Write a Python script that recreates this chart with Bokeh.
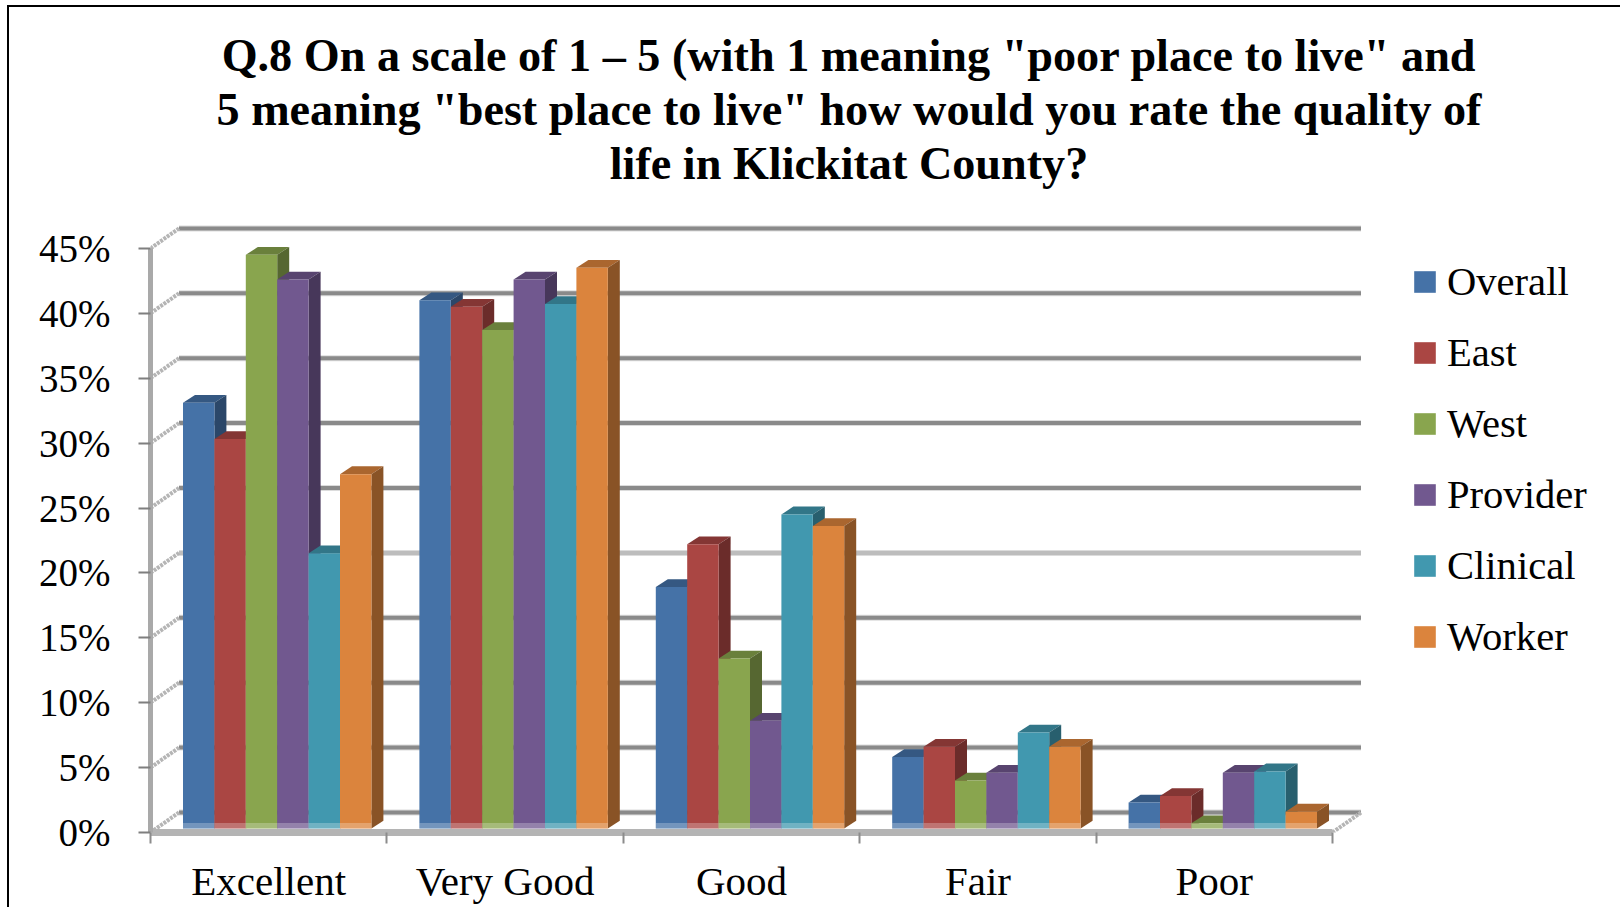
from bokeh.plotting import figure
from bokeh.embed import file_html
from bokeh.resources import INLINE
from bokeh.core.properties import value
from bokeh.models import (Range1d, FixedTicker, LinearAxis, Legend, LegendItem,
                          ColumnDataSource, InlineStyleSheet)

categories = ["Excellent", "Very Good", "Good", "Fair", "Poor"]
series_names = ["Overall", "East", "West", "Provider", "Clinical", "Worker"]
overall = [32.8, 40.7, 18.6, 5.5, 2.0]
east = [30.0, 40.2, 21.9, 6.3, 2.5]
west = [44.2, 38.4, 13.1, 3.7, 0.4]
provider = [42.3, 42.3, 8.3, 4.3, 4.3]
clinical = [21.2, 40.4, 24.2, 7.4, 4.4]
worker = [27.3, 43.2, 23.3, 6.3, 1.3]
all_series = [overall, east, west, provider, clinical, worker]
colors = ["#4572A7", "#AA4643", "#89A54E", "#71588F", "#4198AF", "#DB843D"]
y_ticks = [0, 5, 10, 15, 20, 25, 30, 35, 40, 45]
title_lines = ['Q.8 On a scale of 1 \u2013 5 (with 1 meaning "poor place to live" and',
               '5 meaning "best place to live" how would you rate the quality of',
               'life in Klickitat County?']

SERIF = "Liberation Serif"
PX_X = 236.4      # pixels per category
PX_Y = 12.98      # pixels per percent
DEPTH_X = 28.5 / PX_X
DEPTH_Y = 20.0 / PX_Y
BAR_W = 31.4 / PX_X
BAR_START = 32.5 / PX_X
BASE = 4.0 / PX_Y
SIDE_X = 12.0 / PX_X
SIDE_Y = 7.8 / PX_Y
STRIP = 5.4 / PX_Y


def shade(c, f):
    r, g, b = int(c[1:3], 16), int(c[3:5], 16), int(c[5:7], 16)
    return "#%02x%02x%02x" % (int(r * f), int(g * f), int(b * f))


W, H = 1620, 907
FR_L, FR_R, FR_T, FR_B = 150, 1612, 10, 832   # frame edges inside the figure

p = figure(width=W, height=H, output_backend="svg", toolbar_location=None,
           x_range=Range1d(0, (FR_R - FR_L) / PX_X),
           y_range=Range1d(0, (FR_B - FR_T) / PX_Y),
           min_border_left=FR_L, min_border_right=W - FR_R,
           min_border_top=FR_T, min_border_bottom=H - FR_B,
           x_axis_type=None, y_axis_type=None)
p.outline_line_color = None
p.xgrid.visible = False
p.ygrid.visible = False

# chart area frame: top and left edges running off the page
p.stylesheets = [InlineStyleSheet(css=(
    ":host::after{content:'';position:absolute;left:7px;top:5px;right:-4px;bottom:-4px;"
    "border-left:2px solid #000;border-top:2px solid #000;z-index:20;pointer-events:none;}"))]

# title, three centred lines
title_src = ColumnDataSource(dict(
    x=[(848.5 - FR_L) / PX_X] * 3,
    y=[(FR_B - py) / PX_Y for py in (54.5, 108.5, 162.5)],
    text=title_lines))
p.text(x="x", y="y", text="text", source=title_src, text_align="center", text_baseline="middle",
       text_font=value(SERIF), text_font_size="46.2px", text_font_style="bold", text_color="#000000")

# y axis
ya = LinearAxis(ticker=FixedTicker(ticks=y_ticks), bounds=(0, 45),
                axis_line_color="#a9a9a9", axis_line_width=5,
                major_tick_line_color="#7f7f7f", major_tick_line_width=2,
                major_tick_in=0, major_tick_out=12, minor_tick_line_color=None,
                major_label_text_font=SERIF, major_label_text_font_size="39px",
                major_label_text_color="#000000", major_label_standoff=28,
                major_label_overrides={t: f"{t}%" for t in y_ticks})
p.add_layout(ya, "left")

# x axis: labels at category centres, tick marks between them
xa = LinearAxis(ticker=FixedTicker(ticks=[i + 0.5 for i in range(5)], minor_ticks=list(range(6))),
                bounds=(0, 5), axis_line_color="#b4b4b4", axis_line_width=7,
                major_tick_line_color=None, major_tick_in=0, major_tick_out=0,
                minor_tick_line_color="#8c8c8c", minor_tick_line_width=2,
                minor_tick_in=0, minor_tick_out=11,
                major_label_text_font=SERIF, major_label_text_font_size="41px",
                major_label_text_color="#000000", major_label_standoff=14,
                major_label_overrides={i + 0.5: c for i, c in enumerate(categories)})
p.add_layout(xa, "below")

# back wall gridlines and wall/floor edges
for t in y_ticks:
    light = t == 20
    p.segment(DEPTH_X, t + DEPTH_Y, 5 + DEPTH_X, t + DEPTH_Y, line_color="#dcdcdc", line_width=6)
    p.segment(DEPTH_X, t + DEPTH_Y, 5 + DEPTH_X, t + DEPTH_Y,
              line_color="#bdbdbd" if light else "#8a8a8a", line_width=4)
    p.segment(0, t, DEPTH_X, t + DEPTH_Y, line_color="#b5b5b5", line_width=4, line_dash="3 1")
p.segment(5, 0, 5 + DEPTH_X, DEPTH_Y, line_color="#b5b5b5", line_width=4, line_dash="3 1")

# bars, left to right so that each front hides the side of the one before
legend_items = []
for name, vals, col in zip(series_names, all_series, colors):
    s = series_names.index(name)
    x0 = [i + BAR_START + s * BAR_W for i in range(5)]
    x1 = [x + BAR_W for x in x0]
    tops = [BASE + v for v in vals]
    p.patches([[a, b, b + SIDE_X, a + SIDE_X] for a, b in zip(x0, x1)],
              [[t, t, t + SIDE_Y, t + SIDE_Y] for t in tops],
              fill_color=shade(col, 0.78), line_color=None)
    p.patches([[b, b + SIDE_X, b + SIDE_X, b] for b in x1],
              [[BASE, BASE + SIDE_Y, t + SIDE_Y, t] for t in tops],
              fill_color=shade(col, 0.63), line_color=None)
    r = p.quad(left=x0, right=x1, bottom=BASE, top=tops, fill_color=col, line_color=None)
    p.quad(left=x0, right=x1, bottom=BASE, top=[BASE + min(v, STRIP) for v in vals],
           fill_color="#ffffff", fill_alpha=0.25, line_color=None)
    legend_items.append(LegendItem(label=name, renderers=[r]))

legend = Legend(items=legend_items, location=(1261, 172),
                orientation="vertical", glyph_width=27, glyph_height=27,
                label_standoff=9, spacing=24, padding=0, margin=0,
                border_line_color=None, background_fill_alpha=0,
                label_text_font=SERIF, label_text_font_size="40.6px",
                label_text_color="#000000", label_height=27)
p.add_layout(legend, "center")

open("out.html", "w").write(file_html(p, INLINE))
